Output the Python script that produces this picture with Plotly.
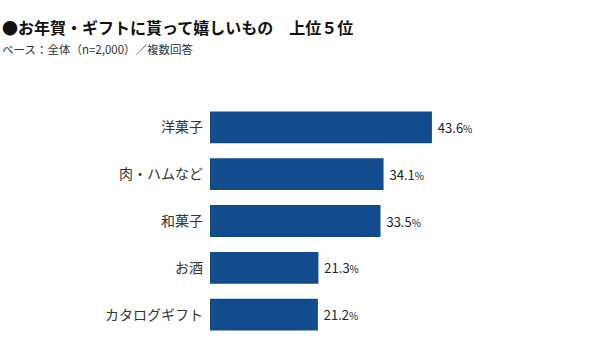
import plotly.graph_objects as go

categories = ["洋菓子", "肉・ハムなど", "和菓子", "お酒", "カタログギフト"]
values = [43.6, 34.1, 33.5, 21.3, 21.2]
title_text = "●お年賀・ギフトに貰って嬉しいもの　上位５位"
subtitle_text = "ベース：全体（n=2,000）／複数回答"

FONT = "Noto Sans CJK JP"
L, R_M, T, B = 210, 85, 104, 20
W = 600 - L - R_M
H = 358 - T - B

labels = [f"\u00a0{v:.1f}<span style='font-size:10px'>%</span>" for v in values]

fig = go.Figure(go.Bar(
    x=values, y=categories, orientation="h",
    marker=dict(color="#124c8f", line=dict(width=0)),
    text=labels, textposition="outside", cliponaxis=False,
    textfont=dict(family=FONT, size=13, color="#222222"),
    width=0.68, hoverinfo="skip",
))

fig.update_layout(
    width=600, height=358,
    margin=dict(l=L, r=R_M, t=T, b=B),
    paper_bgcolor="white", plot_bgcolor="white",
    showlegend=False,
    font=dict(family=FONT, color="#333333"),
    xaxis=dict(range=[0, W / 5.09], visible=False, fixedrange=True),
    yaxis=dict(autorange="reversed", showgrid=False, showline=False, zeroline=False,
               tickfont=dict(family=FONT, size=14, color="#333333"),
               ticklabelstandoff=6, ticks="", fixedrange=True),
    annotations=[
        dict(text=f"<b>{title_text}</b>", xref="paper", yref="paper",
             x=-L / W, y=1 + (T - 27) / H, xanchor="left", yanchor="middle",
             showarrow=False, font=dict(family=FONT, size=16, color="#111111")),
        dict(text=subtitle_text, xref="paper", yref="paper",
             x=-L / W, y=1 + (T - 49) / H, xanchor="left", yanchor="middle",
             showarrow=False, font=dict(family=FONT, size=11.5, color="#333333")),
    ],
)

fig.write_html("out.html", config={"displayModeBar": False},
               post_script="document.body.style.margin='0px';")
